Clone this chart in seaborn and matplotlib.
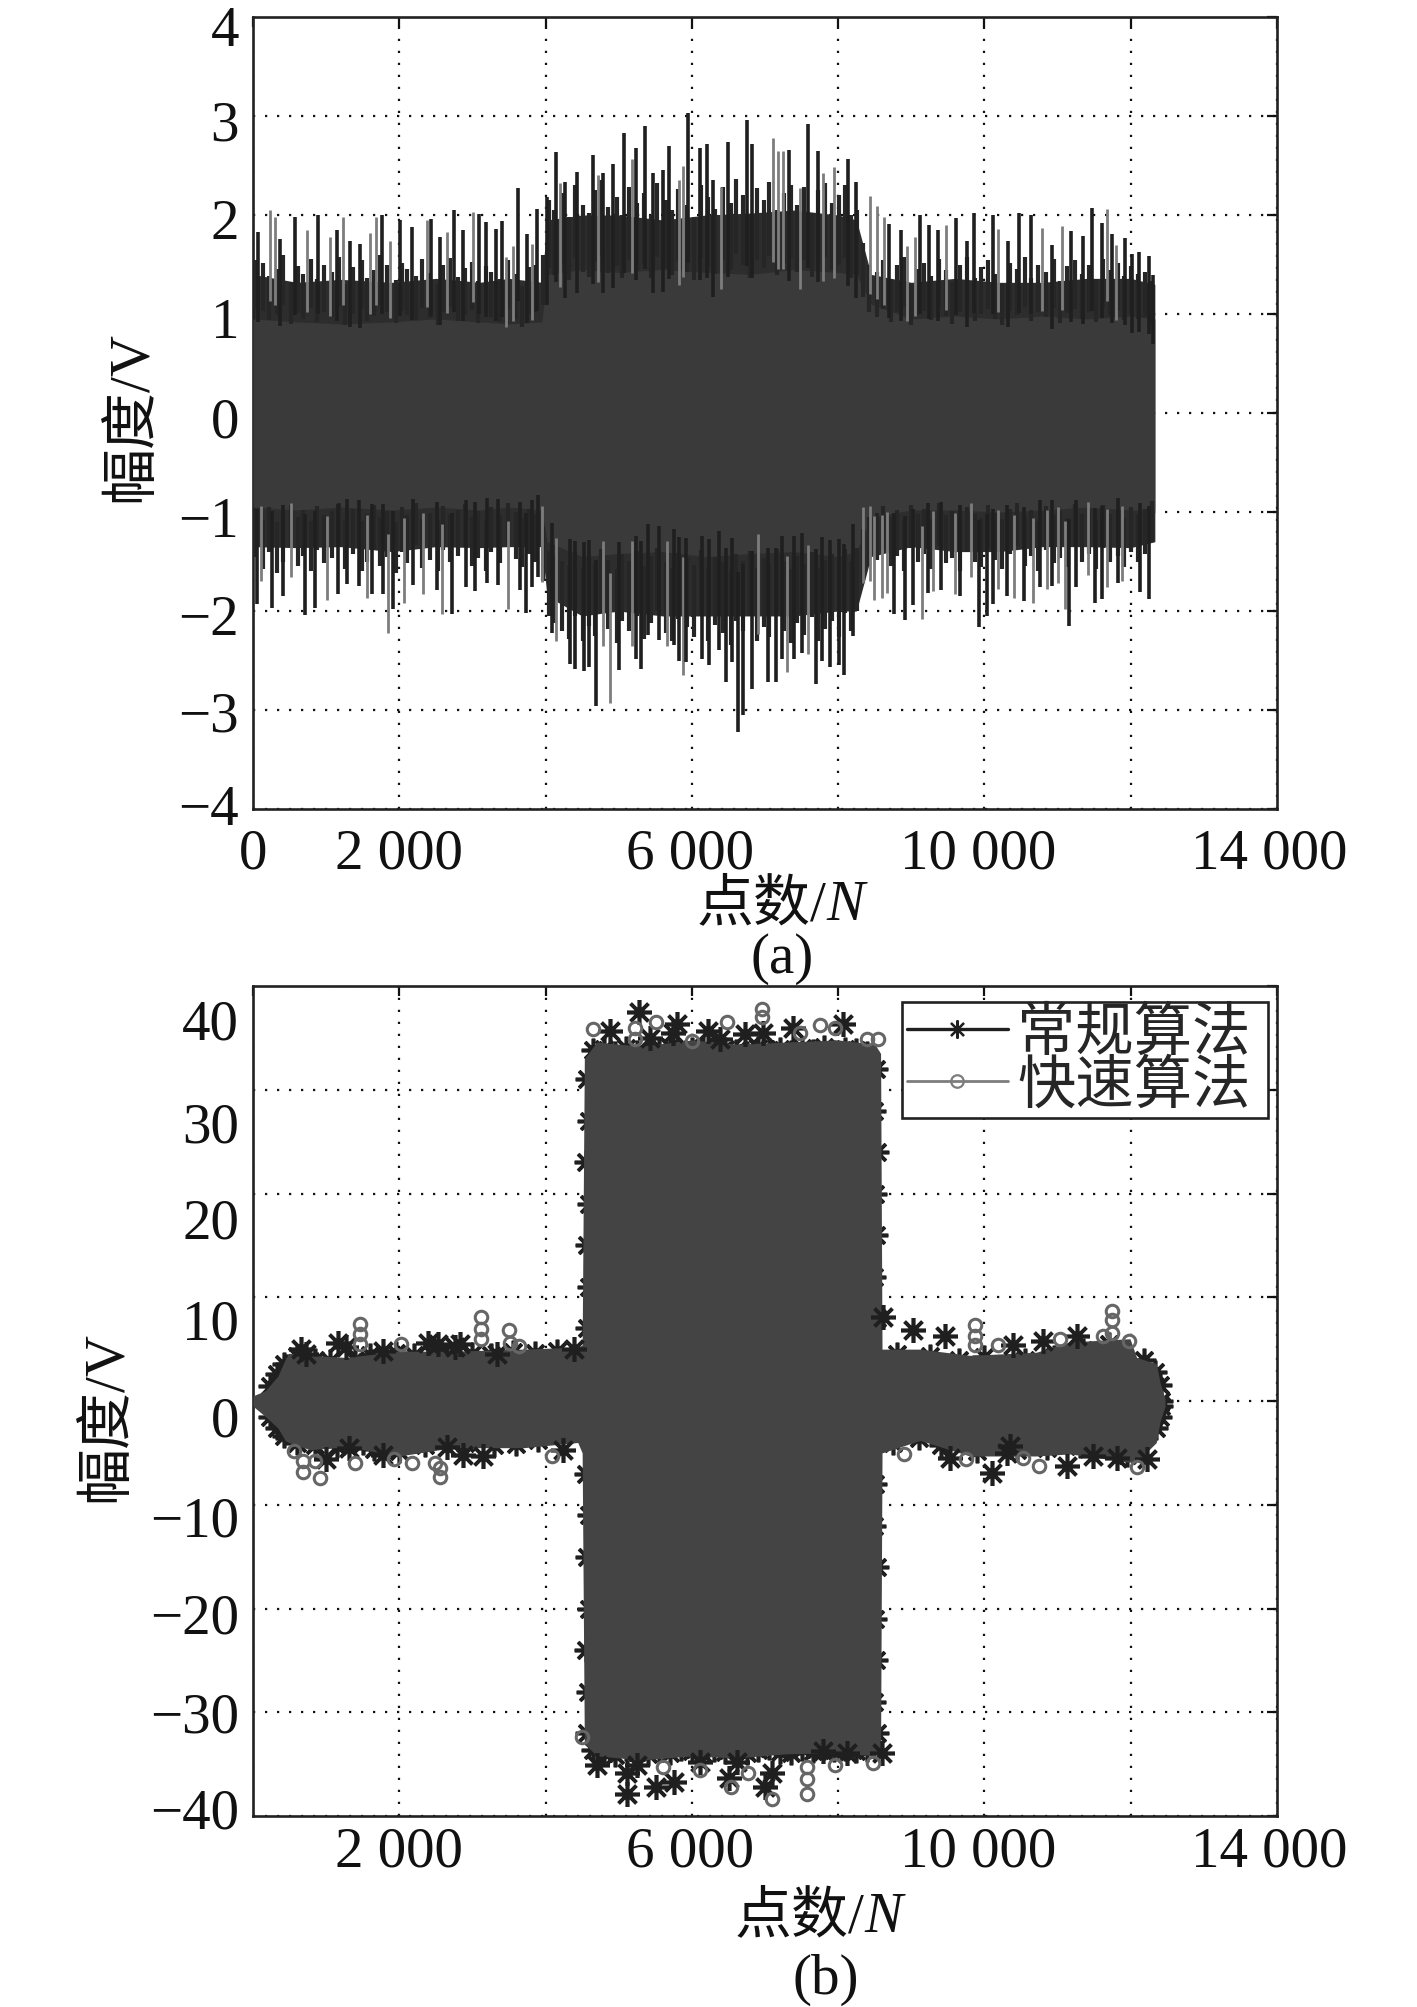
import numpy as np
import matplotlib
matplotlib.use('Agg')
import matplotlib.pyplot as plt
import seaborn as sns
from matplotlib.lines import Line2D
from matplotlib.transforms import ScaledTranslation

# panel (a): spikes
a_top_dark_x = [73, 370, 575, 894, 1144, 1327, 1463, 1759, 2010, 2170, 2434, 2557, 2748, 2876, 3095, 3186, 3322, 3400, 3619, 3742, 3879, 4015, 4143, 4266, 4425, 4653, 4790, 4927, 5077, 5236, 5364, 5464, 5610, 5692, 5952, 6111, 6202, 6294, 6499, 6749, 6817, 7332, 7592, 7720, 8139, 8239, 8695, 8854, 9119, 9246, 9369, 9611, 9757, 9857, 10121, 10326, 10472, 10636, 10928, 11178, 11342, 11475, 11602, 11739, 11926, 12022, 12113, 12249, 12308]
a_top_dark_y = [1.83, 1.76, 1.98, 2.0, 1.85, 1.74, 1.71, 2.0, 1.95, 1.88, 1.96, 1.78, 2.05, 1.85, 2.01, 1.93, 1.86, 1.94, 2.27, 1.81, 2.06, 2.18, 2.64, 2.33, 2.43, 2.61, 2.42, 2.52, 2.83, 2.68, 2.9, 2.42, 2.45, 2.7, 3.03, 2.68, 2.72, 2.35, 2.74, 2.96, 2.72, 2.66, 2.92, 2.65, 2.57, 2.33, 1.91, 1.85, 2.0, 1.9, 1.85, 1.97, 1.74, 2.02, 2.0, 1.74, 2.02, 2.0, 1.7, 1.84, 1.79, 2.07, 1.92, 1.81, 1.77, 1.61, 1.63, 1.59, 1.39]
a_top_grey_x = [233, 301, 734, 1053, 1235, 1600, 1677, 1873, 2375, 2648, 3013, 3459, 3560, 3810, 4197, 4722, 5177, 5829, 5883, 6394, 7104, 7182, 7241, 7478, 7788, 7947, 8435, 8535, 8626, 8945, 9050, 9470, 10190, 10791, 11055, 11670, 11798]
a_top_grey_y = [2.05, 1.98, 1.85, 1.78, 1.98, 1.82, 1.98, 1.74, 1.95, 1.83, 2.03, 1.58, 1.69, 1.71, 2.32, 2.4, 2.57, 2.35, 2.5, 2.28, 2.78, 2.65, 2.65, 2.27, 2.42, 2.48, 2.19, 2.09, 1.98, 1.69, 1.78, 1.9, 1.86, 1.87, 1.89, 2.06, 1.7]
a_bot_dark_x = [50, 264, 414, 711, 847, 1166, 1280, 1453, 1622, 1782, 1918, 2192, 2510, 2716, 2912, 3035, 3203, 3354, 3650, 3727, 3818, 3900, 4082, 4333, 4401, 4524, 4597, 4688, 5003, 5235, 5304, 5404, 5554, 5759, 5823, 5919, 6142, 6238, 6370, 6466, 6552, 6630, 6694, 6826, 7044, 7149, 7227, 7400, 7500, 7691, 7773, 7883, 8015, 8079, 8197, 8763, 8917, 9018, 9232, 9405, 9665, 9925, 10030, 10121, 10303, 10540, 10759, 10918, 11151, 11246, 11511, 11602, 11820, 12126, 12244]
a_bot_dark_y = [-1.93, -1.97, -1.85, -2.04, -1.97, -1.83, -1.73, -1.75, -1.83, -1.83, -1.98, -1.74, -1.79, -2.03, -1.76, -1.8, -1.72, -1.74, -1.79, -2.02, -1.76, -1.66, -2.22, -2.54, -2.59, -2.61, -2.57, -2.96, -2.6, -2.48, -2.59, -2.24, -2.29, -2.34, -2.5, -2.52, -2.48, -2.55, -2.39, -2.72, -2.52, -3.22, -3.05, -2.79, -2.72, -2.72, -2.48, -2.48, -2.42, -2.74, -2.5, -2.57, -2.55, -2.65, -2.25, -2.03, -2.09, -1.94, -1.82, -1.79, -1.85, -2.16, -2.05, -1.93, -1.85, -1.9, -1.76, -1.75, -2.15, -1.76, -1.92, -1.88, -1.72, -1.81, -1.88]
a_bot_grey_x = [105, 519, 1007, 1554, 1850, 2069, 2328, 2588, 3481, 3946, 4142, 4789, 4880, 5176, 5655, 5882, 6908, 7304, 7591, 8343, 8434, 8494, 8594, 8662, 9150, 9300, 9596, 9815, 10180, 10403, 10658, 10859, 11000, 11100, 11419, 11670, 11875]
a_bot_grey_y = [-1.7, -1.66, -1.89, -1.87, -2.22, -1.92, -1.83, -2.03, -1.98, -1.71, -2.3, -2.35, -2.93, -2.35, -2.35, -2.65, -2.23, -2.62, -2.43, -1.72, -1.7, -1.89, -1.87, -1.82, -2.08, -1.8, -1.83, -1.66, -1.78, -1.87, -1.92, -1.78, -1.72, -1.98, -1.64, -1.76, -1.7]

# panel (a): shorter, denser spikes that make the dark band
a_mid_x = [40, 130, 215, 330, 410, 520, 610, 690, 790, 880,
           965, 1075, 1170, 1260, 1370, 1490, 1560, 1650, 1730, 1830,
           1950, 2040, 2110, 2230, 2310, 2420, 2530, 2600, 2690, 2800,
           2900, 2990, 3080, 3190, 3260, 3380, 3490, 3590, 3680, 3780,
           3860, 3960, 4050, 4110, 4230, 4320, 4400, 4510, 4590, 4680,
           4760, 4860, 4980, 5050, 5140, 5250, 5340, 5440, 5530, 5640,
           5730, 5810, 5930, 6030, 6130, 6220, 6310, 6420, 6530, 6610,
           6700, 6800, 6890, 6980, 7060, 7170, 7260, 7350, 7440, 7540,
           7640, 7730, 7820, 7910, 8010, 8090, 8180, 8260, 8340, 8420,
           8530, 8610, 8720, 8810, 8900, 8990, 9090, 9180, 9270, 9380,
           9480, 9560, 9660, 9760, 9870, 9950, 10050, 10150, 10240, 10350,
           10440, 10550, 10640, 10730, 10840, 10950, 11040, 11130, 11240, 11330,
           11430, 11530, 11620, 11720, 11820, 11910, 12010, 12100, 12190, 12290]
a_mid_up = [1.55, 1.52, 1.38, 1.45, 1.6, 1.32, 1.48, 1.4, 1.56, 1.35,
            1.5, 1.42, 1.58, 1.3, 1.47, 1.55, 1.36, 1.44, 1.6, 1.5,
            1.34, 1.52, 1.45, 1.38, 1.56, 1.41, 1.3, 1.5, 1.57, 1.37,
            1.46, 1.53, 1.33, 1.48, 1.42, 1.35, 1.55, 1.4, 1.28, 1.47,
            1.5, 1.6, 2.15, 2.05, 2.22, 1.98, 2.3, 2.1, 2.02, 2.25,
            2.35, 2.08, 2.18, 2.0, 2.28, 2.12, 2.22, 2.0, 2.32, 2.15,
            2.05, 2.26, 2.1, 1.98, 2.3, 2.18, 2.06, 2.28, 2.12, 2.36,
            2.2, 2.0, 2.27, 2.15, 2.33, 2.05, 2.22, 2.3, 2.1, 2.28,
            2.02, 2.25, 2.32, 2.12, 2.2, 2.3, 2.0, 2.05, 1.72, 1.5,
            1.42, 1.55, 1.35, 1.5, 1.58, 1.3, 1.45, 1.52, 1.38, 1.56,
            1.44, 1.32, 1.5, 1.58, 1.36, 1.47, 1.55, 1.4, 1.3, 1.52,
            1.45, 1.58, 1.36, 1.5, 1.42, 1.56, 1.33, 1.48, 1.55, 1.4,
            1.5, 1.35, 1.56, 1.44, 1.52, 1.38, 1.48, 1.4, 1.42, 1.33]
a_mid_low = [-1.45, -1.58, -1.4, -1.62, -1.5, -1.36, -1.55, -1.44, -1.6, -1.38,
             -1.52, -1.46, -1.34, -1.58, -1.42, -1.6, -1.5, -1.37, -1.55, -1.45,
             -1.62, -1.4, -1.52, -1.33, -1.57, -1.48, -1.6, -1.38, -1.5, -1.44,
             -1.35, -1.55, -1.46, -1.6, -1.4, -1.52, -1.34, -1.47, -1.56, -1.42,
             -1.5, -1.7, -2.05, -2.12, -2.2, -2.28, -2.05, -2.3, -2.15, -2.25,
             -2.02, -2.18, -2.32, -2.1, -2.2, -2.05, -2.28, -2.12, -2.0, -2.22,
             -2.3, -2.08, -2.16, -2.26, -2.04, -2.3, -2.14, -2.22, -2.34, -2.1,
             -2.2, -2.05, -2.3, -2.16, -2.26, -2.02, -2.2, -2.32, -2.12, -2.24,
             -2.06, -2.3, -2.18, -2.1, -2.26, -2.02, -2.2, -2.0, -1.72, -1.55,
             -1.48, -1.38, -1.55, -1.44, -1.6, -1.36, -1.5, -1.42, -1.58, -1.34,
             -1.52, -1.46, -1.6, -1.4, -1.5, -1.56, -1.36, -1.48, -1.58, -1.42,
             -1.34, -1.55, -1.44, -1.6, -1.38, -1.52, -1.46, -1.56, -1.35, -1.5,
             -1.42, -1.58, -1.36, -1.5, -1.44, -1.56, -1.4, -1.5, -1.42, -1.3]

# panel (a): solid middle of the signal
a_env_x = [0, 600, 1200, 1900, 2500, 3100, 3500, 3950, 4020, 4500, 5000, 5600, 6200, 6800, 7400, 8000, 8250, 8450, 9000, 9600, 10200, 10800, 11400, 12000, 12330]
a_band_up = [1.4, 1.32, 1.35, 1.32, 1.36, 1.32, 1.36, 1.32, 1.95, 2.0, 2.0, 1.95, 2.0, 2.02, 2.05, 2.0, 1.95, 1.4, 1.32, 1.36, 1.32, 1.32, 1.36, 1.36, 1.3]
a_band_low = [-1.35, -1.36, -1.35, -1.4, -1.35, -1.36, -1.35, -1.35, -1.85, -2.05, -2.0, -2.05, -2.05, -2.05, -2.05, -2.0, -2.0, -1.45, -1.35, -1.4, -1.4, -1.35, -1.35, -1.36, -1.3]
a_core_up = [0.95, 0.92, 0.9, 0.92, 0.95, 0.92, 0.9, 0.92, 1.4, 1.45, 1.42, 1.45, 1.42, 1.4, 1.45, 1.42, 1.4, 1.1, 0.95, 0.98, 0.95, 0.98, 0.95, 0.98, 0.95]
a_core_low = [-0.95, -0.98, -0.95, -0.98, -0.95, -0.98, -0.95, -0.98, -1.3, -1.45, -1.42, -1.4, -1.45, -1.42, -1.4, -1.45, -1.4, -1.05, -0.98, -0.98, -1.0, -0.98, -0.95, -0.98, -0.98]

# panel (b): outline of the filled signal
b_env_x = [0, 170, 340, 440, 490, 780, 1270, 2000, 2730, 3700, 4440, 4500, 4530, 4700, 5300, 6000, 6600, 7300, 8000, 8500, 8580, 8600, 9120, 9800, 10710, 11170, 11990, 12080, 12350, 12400, 12470]
b_env_up = [0.5, 1.0, 2.4, 4.0, 4.6, 4.4, 4.2, 4.8, 4.8, 5.0, 5.2, 5.4, 33.0, 34.6, 34.2, 34.8, 34.4, 34.6, 34.8, 34.4, 33.5, 5.0, 5.0, 4.4, 4.7, 5.7, 6.0, 4.2, 3.6, 1.8, 0.2]
b_env_low = [-0.5, -1.5, -2.6, -3.8, -4.0, -4.7, -4.4, -5.3, -4.5, -4.5, -4.0, -5.0, -33.0, -34.2, -34.6, -34.2, -34.4, -34.0, -33.9, -34.2, -33.5, -5.0, -3.8, -5.3, -5.3, -5.1, -5.9, -5.9, -4.0, -2.0, -0.5]

# panel (b): 常规算法 markers that stand clear of the fill
b_star_x = [656, 729, 1168, 1266, 1778, 2388, 2535, 2755, 2828, 3340, 4389, 4880, 5277, 5427, 5746, 5792, 6225, 6384, 6726, 6977, 7387, 8070, 8616, 9026, 9459, 10394, 10804, 11259,
            998, 1315, 1778, 2657, 2876, 3145, 4243, 4698, 5108, 5117, 5245, 5509, 5755, 6111, 6512, 6612, 7000, 7090, 7797, 8116, 8594, 9528, 10097, 10302, 10348, 11123, 11487, 11806, 12216]
b_star_y = [5.0, 4.5, 5.6, 5.2, 4.8, 5.6, 5.5, 5.2, 5.5, 4.5, 5.0, 35.7, 37.5, 35.0, 35.5, 36.3, 35.7, 34.9, 35.4, 35.5, 36.0, 36.3, 8.1, 6.8, 6.3, 5.4, 5.8, 6.3,
            -5.6, -4.5, -5.2, -4.4, -5.2, -5.3, -4.7, -35.1, -35.9, -37.9, -35.1, -37.2, -36.7, -34.8, -36.3, -34.8, -37.2, -35.9, -33.7, -33.9, -33.9, -5.5, -6.9, -5.0, -4.3, -6.3, -5.3, -5.5, -5.6]

# panel (b): 常规算法 markers half hidden behind the fill, they roughen its edge
b_edge_x = [4560, 4590, 4550, 4600, 4570, 4590, 4560, 4550, 4600, 4560, 4590, 4550, 4580, 4560,
            8520, 8490, 8530, 8500, 8520, 8490, 8530, 8510, 8490, 8530, 8500, 8520, 8490, 8530,
            4650, 4800, 4950, 5100, 5250, 5400, 5550, 5700, 5850, 6000, 6150, 6300, 6450, 6600, 6750, 6900, 7050, 7200, 7350, 7500, 7650, 7800, 7950, 8100, 8250, 8400,
            4650, 4800, 4950, 5100, 5250, 5400, 5550, 5700, 5850, 6000, 6150, 6300, 6450, 6600, 6750, 6900, 7050, 7200, 7350, 7500, 7650, 7800, 7950, 8100, 8250, 8400,
            230, 330, 430, 600, 850, 1050, 1400, 1600, 1950, 2200, 2450, 2650, 3000, 3250, 3550, 3850, 4150, 8800, 9250, 9650, 10000, 10550, 10950, 11350, 11700, 12180, 12330, 12400, 12420,
            230, 330, 430, 600, 850, 1150, 1500, 1650, 2000, 2350, 2900, 3300, 3600, 3900, 8750, 9100, 9400, 9900, 10450, 10850, 11300, 11950, 12340, 12400, 12420]
b_edge_y = [31, 27, 23, 19, 15, 11, 7, -7, -11, -15, -20, -24, -28, -32,
            32, 28, 24, 20, 16, 12, 8, -8, -12, -16, -21, -25, -29, -32,
            33.8, 33.9, 33.5, 34.0, 33.6, 33.4, 33.8, 34.1, 33.5, 33.9, 34.0, 33.6, 33.9, 33.7, 33.5, 34.0, 33.8, 33.9, 33.6, 34.0, 33.7, 34.1, 33.6, 33.9, 33.8, 33.5,
            -33.6, -33.9, -34.1, -33.5, -33.8, -34.0, -33.6, -33.9, -33.5, -33.7, -34.0, -33.6, -33.8, -33.5, -33.9, -33.6, -33.4, -33.8, -33.9, -33.5, -33.7, -33.4, -33.6, -33.5, -33.7, -33.6,
            1.4, 2.6, 3.6, 4.3, 4.0, 3.9, 4.0, 4.4, 4.6, 4.4, 4.5, 4.3, 4.5, 4.4, 4.7, 4.6, 4.8, 4.5, 4.3, 4.0, 4.2, 4.0, 4.2, 4.9, 5.5, 4.0, 2.8, 1.5, 0,
            -1.5, -2.6, -3.4, -4.0, -4.2, -4.3, -4.0, -4.6, -4.8, -4.2, -4.0, -4.2, -4.1, -3.8, -4.0, -3.6, -4.2, -4.8, -4.7, -4.5, -4.3, -5.2, -2.6, -1.5, -0.5]

# panel (b): 快速算法 markers
b_circle_x = [1461, 1461, 1461, 2022, 3120, 3120, 3120, 3496, 3511, 3633, 4653, 5222, 5222, 5509, 5997, 6476, 6963, 6963, 7478, 7751, 7956, 8389, 8549, 9869, 9869, 9869, 10188, 11032, 11624, 11738, 11738, 11738, 11979,
              558, 681, 690, 851, 915, 1388, 1925, 2169, 2486, 2559, 2559, 4087, 4493, 5610, 6111, 6530, 6771, 7090, 7578, 7578, 7578, 7956, 8480, 8903, 9746, 10530, 10749, 12080]
b_circle_y = [7.4, 6.5, 5.5, 5.5, 8.1, 6.9, 6.0, 6.8, 5.6, 5.3, 35.9, 36.0, 34.9, 36.5, 34.7, 36.5, 37.8, 37.0, 35.5, 36.2, 36.0, 34.9, 34.9, 7.3, 6.3, 5.4, 5.4, 6.0, 6.3, 8.7, 7.8, 6.6, 5.8,
              -4.8, -5.8, -6.8, -5.8, -7.4, -6.0, -5.6, -6.0, -6.0, -7.3, -6.5, -5.3, -32.4, -35.3, -35.6, -37.2, -35.9, -38.4, -37.9, -36.4, -35.3, -35.1, -34.9, -5.1, -5.6, -5.5, -6.3, -6.4]

x_ticks = [0, 2000, 4000, 6000, 8000, 10000, 12000, 14000]
a_xlabels = ['0', '2 000', '', '6 000', '', '10 000', '', '14 000']
b_xlabels = ['', '2 000', '', '6 000', '', '10 000', '', '14 000']
a_yticks = [-4, -3, -2, -1, 0, 1, 2, 3, 4]
b_yticks = [-40, -30, -20, -10, 0, 10, 20, 30, 40]
legend_names = ['常规算法', '快速算法']

W, H = 1417, 2008
DARK = '#1f1f1f'
GREY = '#7d7d7d'
FS = 41

sns.set_style('white')
plt.rcParams['font.family'] = ['Liberation Serif', 'Noto Sans CJK SC']
plt.rcParams['axes.unicode_minus'] = True

fig = plt.figure(figsize=(W / 100, H / 100), dpi=100)


def make_axes(top, bottom, xpad):
    ax = fig.add_axes([253 / W, 1 - bottom / H, 1024 / W, (bottom - top) / H])
    ax.set_axisbelow(True)
    ax.grid(True, color='#111111', lw=1.6, linestyle=(0, (1, 4.4)))
    ax.tick_params(direction='in', length=7, width=1.6, top=True, right=True, labelsize=FS, colors='#111111')
    ax.tick_params(axis='x', pad=xpad)
    ax.tick_params(axis='y', pad=10)
    for s in ax.spines.values():
        s.set_linewidth(1.9)
        s.set_color('#222222')
    return ax


def spikes(ax, x, y, color, lw, z, depth):
    # each spike is its own short line, from inside the solid part out to the peak
    xs = np.repeat(x, 2)
    ys = np.column_stack([np.array(y) * depth, y]).ravel()
    ids = np.repeat(np.arange(len(x)), 2)
    sns.lineplot(x=xs, y=ys, units=ids, estimator=None, sort=False, color=color, lw=lw, zorder=z,
                 solid_capstyle='butt', ax=ax)


def shift_labels(labels, dx, dy):
    for lab, a, b in zip(labels, dx, dy):
        lab.set_transform(lab.get_transform() + ScaledTranslation(a / 100, -b / 100, fig.dpi_scale_trans))


def px_text(x, y, s, **kw):
    return fig.text(x / W, 1 - y / H, s, va='center', color='#111111', **kw)


# (a)
ax1 = make_axes(18, 810, 13)
ax1.fill_between(a_env_x, a_band_low, a_band_up, color='#2d2d2d', lw=0, zorder=2.5)
ax1.fill_between(a_env_x, a_core_low, a_core_up, color='#3a3a3a', lw=0, zorder=2.6)
spikes(ax1, a_mid_x, a_mid_up, '#262626', 3.0, 3, 0.68)
spikes(ax1, a_mid_x, a_mid_low, '#262626', 3.0, 3, 0.68)
spikes(ax1, a_top_grey_x, a_top_grey_y, GREY, 2.0, 3.2, 0.55)
spikes(ax1, a_bot_grey_x, a_bot_grey_y, GREY, 2.0, 3.2, 0.55)
spikes(ax1, a_top_dark_x, a_top_dark_y, DARK, 2.6, 3.4, 0.5)
spikes(ax1, a_bot_dark_x, a_bot_dark_y, DARK, 2.6, 3.4, 0.5)
ax1.set_xlim(0, 14000)
ax1.set_ylim(-4, 4)
ax1.set_xticks(x_ticks)
ax1.set_xticklabels(a_xlabels)
ax1.set_yticks(a_yticks)
ax1.set_yticklabels([str(v).replace('-', '−') for v in a_yticks])
shift_labels(ax1.get_yticklabels(), [0] * 9, [-5, 1, 3, 4, 4, 3, 3, 4, 8])
shift_labels(ax1.get_xticklabels(), [0, 0, 0, -2, 0, -6, 0, -8], [0] * 8)

# (b)
ax2 = make_axes(987, 1817, 7)
sns.lineplot(x=b_edge_x, y=b_edge_y, estimator=None, sort=False, linestyle='none', marker=(8, 2, 0),
             markersize=17, markeredgewidth=2.6, markeredgecolor=DARK, color=DARK, zorder=2.5, ax=ax2)
ax2.fill_between(b_env_x, b_env_low, b_env_up, color='#444444', lw=0, zorder=3)
sns.lineplot(x=b_star_x, y=b_star_y, estimator=None, sort=False, linestyle='none', marker=(8, 2, 0),
             markersize=18, markeredgewidth=2.6, markeredgecolor=DARK, color=DARK, zorder=4, ax=ax2)
sns.lineplot(x=b_circle_x, y=b_circle_y, estimator=None, sort=False, linestyle='none', marker='o',
             markersize=9, markeredgewidth=2.2, markeredgecolor='#666666', markerfacecolor='none', zorder=5, ax=ax2)
ax2.set_xlim(0, 14000)
ax2.set_ylim(-40, 40)
ax2.set_xticks(x_ticks)
ax2.set_xticklabels(b_xlabels)
ax2.set_yticks(b_yticks)
ax2.set_yticklabels([str(v).replace('-', '−') for v in b_yticks])
shift_labels(ax2.get_yticklabels(), [0] * 9, [-8, -1, 4, 11, 15, 21, 24, 32, 33])
shift_labels(ax2.get_xticklabels(), [0, 0, 0, -2, 0, -6, 0, -8], [0] * 8)

handles = [
    Line2D([], [], color=DARK, lw=2.4, marker=(8, 2, 0), markersize=13, markeredgewidth=1.6),
    Line2D([], [], color=GREY, lw=2.0, marker='o', markersize=9, markerfacecolor='none', markeredgewidth=1.6),
]
leg = ax2.legend(handles, legend_names, loc='upper left',
                 bbox_to_anchor=((902 - 253) / 1024, 1 - (1003 - 987) / 830, 366 / 1024, 0), mode='expand',
                 borderaxespad=0, fontsize=42, frameon=True, fancybox=False, framealpha=1, edgecolor='#222222',
                 handlelength=1.74, handletextpad=0.15, labelspacing=-0.03, borderpad=0.08)
leg.get_frame().set_linewidth(1.9)
leg.set_zorder(10)

# axis labels and panel names
px_text(132, 416, '幅度/V', rotation=90, ha='center', fontsize=FS)
px_text(107, 1417, '幅度/V', rotation=90, ha='center', fontsize=FS)
px_text(826, 906, '点数/', ha='right', fontsize=FS)
px_text(826, 906, 'N', ha='left', style='italic', fontsize=FS)
px_text(864, 1918, '点数/', ha='right', fontsize=FS)
px_text(864, 1918, 'N', ha='left', style='italic', fontsize=FS)
px_text(782, 959, '(a)', ha='center', fontsize=FS)
px_text(826, 1980, '(b)', ha='center', fontsize=FS)

fig.savefig('out.png', dpi=100)
